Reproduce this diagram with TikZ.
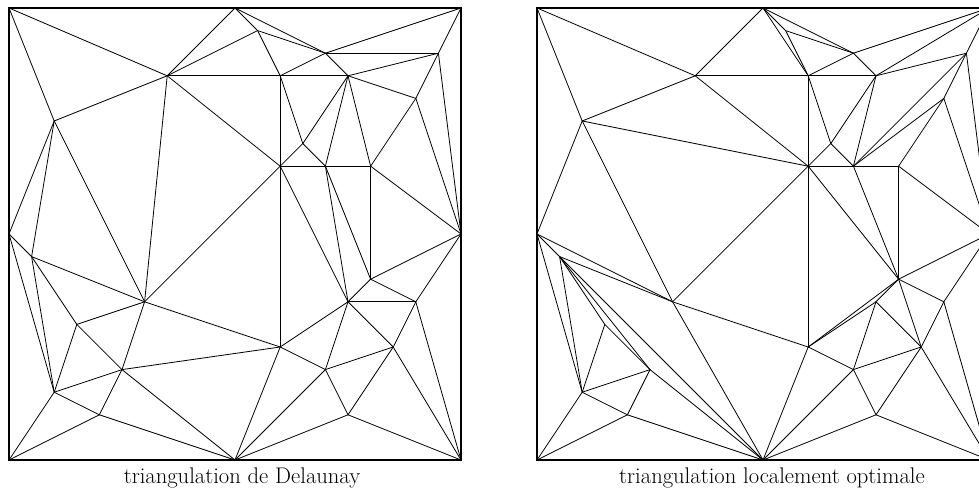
\documentclass[tikz,border=0pt]{standalone}
\usepackage{fontspec}
\tikzset{
  edge/.style={line width=0.8pt, line cap=round, line join=round},
  frame/.style={line width=2pt},
  caption/.style={anchor=base, inner sep=0pt, font=\fontsize{22.6}{27}\selectfont}
}
\newcommand\placepts[1]{%
  \foreach \n/\x/\y in {TL/0/20,T1/10/20,TR/20/20,L/0/10,R/20/10,BL/0/0,B1/10/0,BR/20/0,
    A/7/17,B/2/15,C/11/19,D/14/18,E/12/17,F/15/17,G/19/18,H/18/16,I/13/14,J/12/13,K/14/13,
    M/16/13,P/6/7,Q/15/7,S/16/8,U/18/7,N/12/5,V/17/5,W/14/4,X/15/2,Y/1/9,Z/3/6,AA/5/4,
    AB/2/3,AC/4/2}{\coordinate (#1\n) at (\x,\y);}}
\newcommand\edgesof[2]{\foreach \a/\b in {#2}{\draw[edge] (#1\a) -- (#1\b);}}
\begin{document}
\begin{tikzpicture}[x=1pt,y=1pt]
\clip (0,0) rectangle (979,490);
% left: Delaunay
\begin{scope}[shift={(9pt,30pt)},x=22.6pt,y=22.6pt]
\placepts{l}
\edgesof{l}{TL/A,TL/B,A/B,A/T1,A/C,A/E,A/J,A/P,B/L,B/Y,B/P,T1/C,T1/D,C/D,C/E,D/TR,D/G,
  D/E,D/F,E/F,E/I,E/J,F/I,F/K,F/M,F/G,F/H,G/H,G/TR,G/R,H/M,H/R,M/R,I/J,I/K,J/K,K/M,J/P,
  J/Q,K/Q,K/S,M/S,S/R,S/Q,S/U,Q/U,U/R,Q/N,Q/W,Q/V,U/V,U/BR,V/W,V/X,V/BR,N/W,N/B1,N/P,
  N/AA,W/X,W/B1,X/B1,X/BR,J/N,L/Y,L/AB,Y/P,Y/Z,Y/AB,Z/P,Z/AA,Z/AB,P/AA,AA/AB,AA/AC,
  AB/AC,AB/BL,AC/BL,AC/B1,AA/B1}
\draw[frame] (lBL) rectangle (lTR);
\end{scope}
% right: locally optimal
\begin{scope}[shift={(537pt,30pt)},x=22.6pt,y=22.6pt]
\placepts{r}
\edgesof{r}{TL/A,TL/B,A/B,A/T1,A/E,A/J,B/J,B/L,B/P,T1/C,T1/E,T1/D,C/E,C/D,D/E,D/F,D/TR,
  E/F,E/I,E/J,F/I,F/K,F/G,F/TR,G/TR,G/R,G/K,G/H,H/K,H/M,H/R,K/M,M/R,I/J,I/K,J/K,J/P,J/S,
  K/S,M/S,J/N,S/R,S/U,U/R,S/N,S/Q,S/V,Q/N,Q/W,Q/V,U/V,U/BR,V/BR,V/W,V/X,W/N,W/B1,W/X,
  X/B1,X/BR,N/B1,N/P,P/B1,L/P,L/Y,Y/P,Y/B1,L/AB,Y/AB,Y/Z,Y/AA,Z/AA,Z/AB,AA/AB,AA/AC,
  AB/AC,AB/BL,AC/BL,AC/B1,AA/B1}
\draw[frame] (rBL) rectangle (rTR);
\end{scope}
\node[caption] (capl) at (242,7) {triangulation de Delaunay};
\node[caption] (capr) at (772,7) {triangulation localement optimale};
\end{tikzpicture}
\end{document}
